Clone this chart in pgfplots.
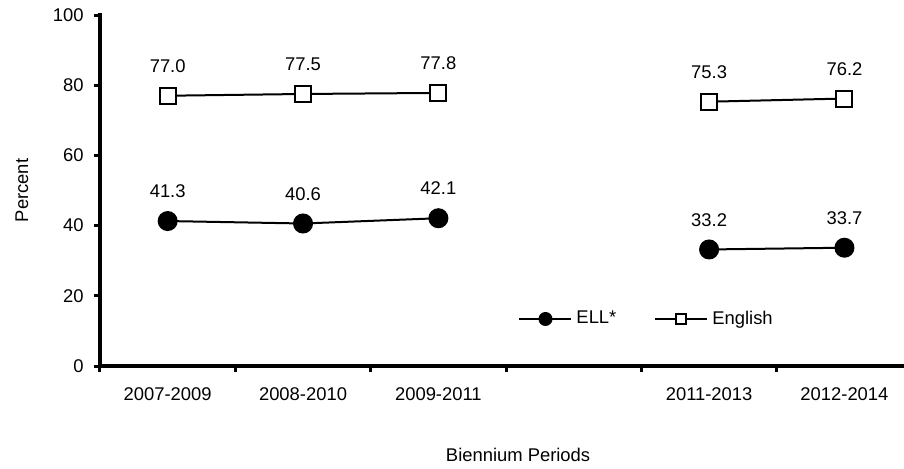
\documentclass[border=0pt]{standalone}
\usepackage{fontspec}
\setmainfont{Liberation Sans}
\usepackage{pgfplots}
\pgfplotsset{compat=1.18}
\begin{document}
\begin{tikzpicture}[font=\fontsize{9.2}{11}\selectfont]
\useasboundingbox (0,0) rectangle (452pt,234pt);
\begin{axis}[
  at={(50pt,51pt)}, anchor=south west,
  scale only axis, width=402pt, height=175.5pt,
  xmin=-0.5, xmax=5.44, ymin=0, ymax=100,
  axis lines*=left,
  axis line style={line width=2pt, line cap=rect},
  clip=false,
  /pgf/number format/assume math mode=true,
  xtick={0,1,2,4,5},
  xticklabels={2007-2009,2008-2010,2009-2011,2011-2013,2012-2014},
  minor xtick={-0.5,0.5,1.5,2.5,3.5,4.5},
  ytick={0,20,...,100},
  tick align=outside,
  major tick length=3pt,
  minor tick length=3pt,
  xtick style={draw=none},
  minor x tick style={draw=black, line width=1.5pt},
  ytick style={line width=1.5pt, black},
  xticklabel style={anchor=north, inner sep=0pt, yshift=-7.5pt},
  yticklabel style={anchor=east, inner sep=0pt, xshift=-5pt},
  xlabel={Biennium Periods},
  ylabel={Percent},
  xlabel style={at={(axis description cs:0.52,-0.2536)}, anchor=center},
  ylabel style={at={(axis description cs:-0.097,0.5)}, anchor=center, rotate=0},
  unbounded coords=jump,
  nodes near coords={\pgfmathprintnumber[fixed,fixed zerofill,precision=1]{\pgfplotspointmeta}},
  every node near coord/.style={anchor=base, yshift=11.7pt, inner sep=0pt, black},
  legend style={at={(axis description cs:0.52,0.134)}, anchor=west, draw=none, fill=none,
    legend columns=2, /tikz/every even column/.append style={column sep=17pt},
    inner sep=0pt},
  legend cell align=left,
  legend image code/.code={\draw[mark repeat=2,mark phase=2,#1] plot coordinates {(0pt,0pt) (13pt,0pt) (26pt,0pt)};},
]
\addplot[black, line width=1pt, mark=*, mark size=4.5pt, mark options={fill=black},
  legend image post style={mark size=3pt}]
  coordinates {(0,41.3) (1,40.6) (2,42.1) (3,nan) (4,33.2) (5,33.7)};
\addlegendentry{ELL*}
\addplot[black, line width=1pt, mark=square*, mark size=4pt, mark options={fill=white, line width=1pt},
  legend image post style={mark size=2.5pt}]
  coordinates {(0,77.0) (1,77.5) (2,77.8) (3,nan) (4,75.3) (5,76.2)};
\addlegendentry{English}
\end{axis}
\end{tikzpicture}
\end{document}
